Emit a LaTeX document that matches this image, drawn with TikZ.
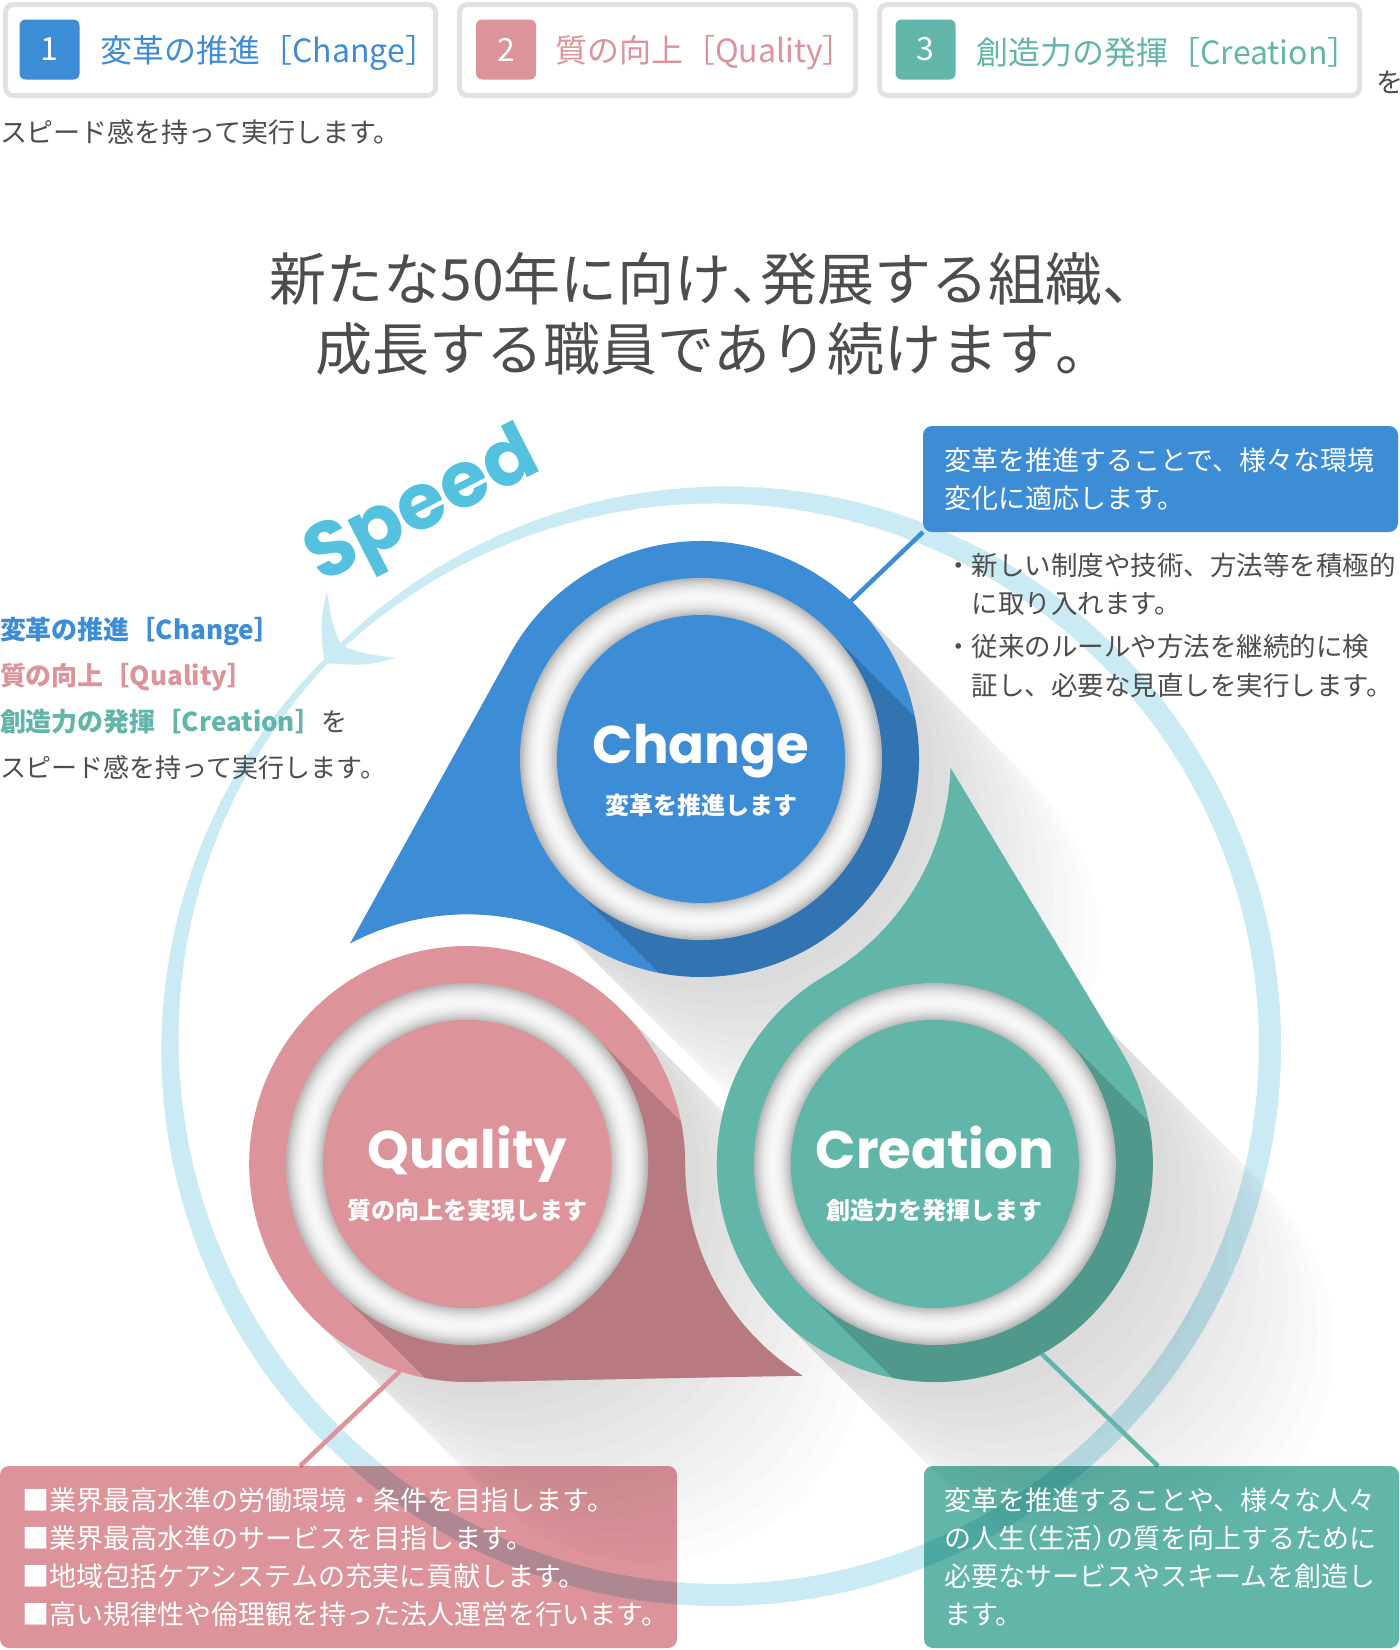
\documentclass[tikz,border=0pt]{standalone}
\usepackage{fontspec}
\setmainfont{Noto Sans CJK JP}
\newfontfamily\geofont{Poppins}
\usetikzlibrary{calc,positioning}

\definecolor{chgblue}{RGB}{61,140,214}
\definecolor{qualpink}{RGB}{220,147,154}
\definecolor{creagreen}{RGB}{97,182,169}
\definecolor{ringblue}{RGB}{202,235,244}
\definecolor{speedblue}{RGB}{84,194,223}
\definecolor{bodygray}{RGB}{77,77,77}
\definecolor{framegray}{RGB}{225,225,225}

\newcommand{\fsz}[2]{\fontsize{#1}{#2}\selectfont}
\newcommand{\halfw}[1]{{\addfontfeature{RawFeature=+halt}#1}}

\tikzset{
  tagframe/.style={draw=framegray, line width=5pt, rounded corners=8pt, fill=white, minimum height=91pt, anchor=north west},
  numbox/.style={text=white, rounded corners=6pt, minimum size=60pt, font=\fsz{32}{32}},
  taglabel/.style={font=\fsz{32}{32}, yshift=-3pt},
  notebox/.style={rounded corners=9pt, anchor=north west},
  notetext/.style={text=white, align=left, anchor=west, font=\fsz{27}{38}},
  plain/.style={anchor=base west, text=bodygray, font=\fsz{27}{27}},
  dropname/.style={text=white, font=\geofont\bfseries\fsz{53}{53}, anchor=base},
  dropsub/.style={text=white, font=\bfseries\fsz{24}{24}, anchor=base},
  lead/.style={line width=4.5pt},
}

\begin{document}
\begin{tikzpicture}[x=1pt,y=-1pt, every node/.style={inner sep=0pt, outer sep=0pt}]
\useasboundingbox (0,0) rectangle (1400,1650);
\fill[white] (0,0) rectangle (1400,1650);

\coordinate (O) at (701,1029); % centre of the three drops
\coordinate (R) at (720,1045); % centre of the speed ring

% speed ring, thin at the arrow head
\foreach \a in {0,2,...,358}{
  \pgfmathsetmacro\dd{min(abs(\a-224),360-abs(\a-224))}
  \pgfmathsetmacro\ww{5+17*sin(min(\dd,90))}
  \draw[ringblue, line width=\ww pt] ($(R)+(\a:550)$) arc[start angle=\a, end angle=\a+2.4, radius=550];
}
\coordinate (atip) at ($(R)+(224:550)$);
\coordinate (abarbA) at ($(atip)+(-88:72)$);
\coordinate (abarbB) at ($(atip)+(-4:72)$);
\coordinate (anotch) at ($(atip)+(-46:24)$);
\fill[ringblue] (atip) .. controls ($(atip)+(-96:40)$) .. (abarbA)
  .. controls ($(atip)+(-80:42)$) .. (anotch)
  .. controls ($(atip)+(-12:42)$) .. (abarbB)
  .. controls ($(atip)+(4:40)$) .. (atip) -- cycle;

% long shadows
\foreach \da in {270,150,30}{
  \foreach \len in {15,30,...,180}{
    \fill[black, opacity=.012] ($(O)+(\da:270)+(-45:218)$) -- ++(\len,\len)
      arc[start angle=-45, end angle=135, radius=218] -- ($(O)+(\da:270)+(135:218)$) -- cycle;
  }
}

% drops
\foreach \da/\col in {270/chgblue,150/qualpink,30/creagreen}{
  \coordinate (c) at ($(O)+(\da:270)$);
  \coordinate (cn) at ($(O)+(\da-120:270)$);
  \begin{scope}
    \clip ($(cn)+(\da-28:249.65)$)
      -- ($(c)+(\da-61.1:218)$)
      arc[start angle=\da-61.1, end angle=\da+210, radius=218]
      arc[start angle=\da+30, end angle=\da-28, radius=249.65] -- cycle;
    \fill[\col] (c) circle (700);
    \fill[black, opacity=.17] ($(c)+(-45:181)$) -- ++(600,600)
      -- ($(c)+(135:181)+(600,600)$) -- ($(c)+(135:181)$) -- cycle;
  \end{scope}
  \foreach \i in {0,...,18}{
    \pgfmathsetmacro\gl{3+25*((\i-9)/9)^2}
    \fill[black!\gl] (c) circle ({181-\i*2});
  }
  \fill[\col] (c) circle (144);
}

\node[dropname] (chgname) at ($(O)+(270:270)+(0,4)$) {Change};
\node[dropsub] (chgsub) at ($(O)+(270:270)+(0,55)$) {変革を推進します};
\node[dropname] (qualname) at ($(O)+(150:270)+(0,4)$) {Quality};
\node[dropsub] (qualsub) at ($(O)+(150:270)+(0,55)$) {質の向上を実現します};
\node[dropname] (creaname) at ($(O)+(30:270)+(0,4)$) {Creation};
\node[dropsub] (creasub) at ($(O)+(30:270)+(0,55)$) {創造力を発揮します};

\node[rotate=27, text=speedblue, font=\geofont\bfseries\fsz{78}{78}] (speedword) at (424,510) {Speed};

% top row
\node[tagframe, minimum width=430pt] (tag1) at (5.5,4.5) {};
\node[tagframe, minimum width=396pt] (tag2) at (459.5,4.5) {};
\node[tagframe, minimum width=480pt] (tag3) at (879.5,4.5) {};
\node[numbox, fill=chgblue] (num1) at (49.5,49.5) {1};
\node[numbox, fill=qualpink] (num2) at (506,49.5) {2};
\node[numbox, fill=creagreen] (num3) at (925.5,49.5) {3};
\node[taglabel, text=chgblue, right=21pt of num1] (lab1) {変革の推進［Change］};
\node[taglabel, text=qualpink, right=19pt of num2] (lab2) {質の向上［Quality］};
\node[taglabel, text=creagreen, right=21pt of num3] (lab3) {創造力の発揮［Creation］};
\node[plain] (topwo) at (1376,92) {を};
\node[plain] (topspeed) at (0,142) {スピード感を持って実行します。};

\node[text=bodygray, font=\fsz{57}{70}, align=center] (headline) at (700,314)
  {新たな50年に向け\halfw{、}発展する組織\halfw{、}\\成長する職員であり続けます\halfw{。}};

% left summary
\node[plain, text=chgblue, font=\bfseries\fsz{26}{26}] (leftchg) at (0,639) {変革の推進［Change］};
\node[plain, text=qualpink, font=\bfseries\fsz{26}{26}] (leftqual) at (0,685) {質の向上［Quality］};
\node[plain, font=\fsz{26}{26}] (leftcrea) at (0,731) {{\color{creagreen}\bfseries 創造力の発揮［Creation］}を};
\node[plain, font=\fsz{26}{26}] (leftspeed) at (0,777) {スピード感を持って実行します。};

% notes
\coordinate (chgpt) at ($(O)+(270:270)+(-46.5:218)$);
\coordinate (qualpt) at ($(O)+(150:270)+(108:218)$);
\coordinate (creapt) at ($(O)+(30:270)+(60.6:218)$);
\coordinate (qualfoot) at (300,1466);
\coordinate (creafoot) at (1158,1466);

\node[notebox, fill=chgblue, minimum width=475pt, minimum height=106pt] (chgnote) at (923,426) {};
\node[notetext] (chgnotetext) at ([xshift=21pt]chgnote.west) {変革を推進することで、様々な環境\\変化に適応します。};
\draw[lead, chgblue] (chgnote.south west) -- (chgpt);
\node[plain, font=\fsz{26.5}{26.5}] (chgitem1) at (945,575) {・新しい制度や技術、方法等を積極的};
\node[plain, font=\fsz{26.5}{26.5}] (chgitem1b) at (971.5,613) {に取り入れます。};
\node[plain, font=\fsz{26.5}{26.5}] (chgitem2) at (945,656) {・従来のルールや方法を継続的に検};
\node[plain, font=\fsz{26.5}{26.5}] (chgitem2b) at (971.5,695) {証し、必要な見直しを実行します。};

\draw[lead, qualpink] (qualfoot) -- (qualpt);
\draw[lead, creagreen] (creafoot) -- (creapt);
\node[notebox, fill=qualpink, blend mode=multiply, minimum width=677pt, minimum height=182pt] (qualbox) at (0,1466) {};
\node[notetext] (qualtext) at ([xshift=23pt]qualbox.west) {■業界最高水準の労働環境・条件を目指します。\\■業界最高水準のサービスを目指します。\\■地域包括ケアシステムの充実に貢献します。\\■高い規律性や倫理観を持った法人運営を行います。};
\node[notebox, fill=creagreen, blend mode=multiply, minimum width=475pt, minimum height=182pt] (creabox) at (924,1466) {};
\node[notetext] (creatext) at ([xshift=20pt]creabox.west) {変革を推進することや、様々な人々\\の人生\halfw{（}生活\halfw{）}の質を向上するために\\必要なサービスやスキームを創造し\\ます。};
\end{tikzpicture}
\end{document}
